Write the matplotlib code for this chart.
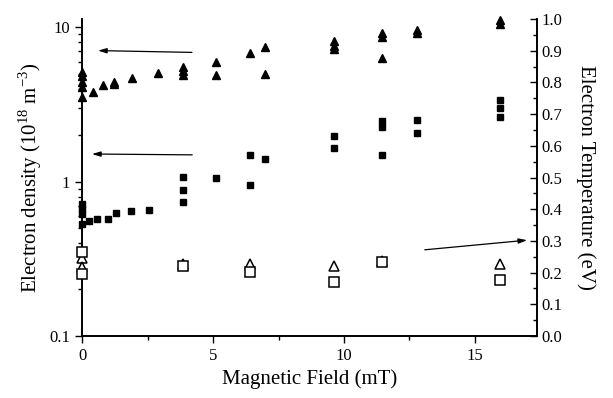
import matplotlib
matplotlib.use("Agg")
import matplotlib.pyplot as plt
from matplotlib.ticker import FixedLocator, NullFormatter, MultipleLocator

plt.rcParams['font.family'] = ['Liberation Serif', 'DejaVu Serif']
plt.rcParams['mathtext.fontset'] = 'custom'
plt.rcParams['mathtext.rm'] = 'Liberation Serif'

# density, upper set (filled triangles), 10^18 m^-3
tri_B = [0, 0, 0, 0, 0, 0.4, 0.8, 1.2, 1.2, 1.9, 2.9, 3.85, 3.85, 3.85,
         5.1, 5.1, 6.4, 7.0, 7.0, 9.6, 9.6, 9.6, 11.45, 11.45, 11.45, 12.8, 12.8, 15.95, 15.95]
tri_n = [5.17, 4.8, 4.45, 4.13, 3.56, 3.83, 4.25, 4.3, 4.4, 4.72, 5.02, 5.57, 5.2, 4.94,
         6.0, 4.94, 6.77, 7.4, 5.0, 8.2, 7.6, 7.2, 9.14, 8.6, 6.36, 9.6, 9.25, 11.1, 10.5]

# density, lower set (filled squares)
sq_B = [0, 0, 0, 0, 0.27, 0.57, 1.0, 1.3, 1.87, 2.56, 3.85, 3.85, 3.85, 5.1,
        6.4, 6.4, 7.0, 9.6, 9.6, 11.45, 11.45, 11.45, 12.8, 12.8, 15.95, 15.95, 15.95]
sq_n = [0.714, 0.662, 0.614, 0.529, 0.553, 0.570, 0.570, 0.623, 0.643, 0.654, 1.07, 0.88, 0.735, 1.05,
        1.49, 0.95, 1.40, 1.98, 1.65, 2.48, 2.26, 1.49, 2.52, 2.07, 3.4, 3.01, 2.63]

# electron temperature (eV), open markers
otri_B = [0, 0, 3.85, 6.4, 9.6, 11.45, 15.95]
otri_T = [0.246, 0.218, 0.227, 0.227, 0.221, 0.238, 0.227]
osq_B = [0, 0, 3.85, 6.4, 9.6, 11.45, 15.95]
osq_T = [0.265, 0.196, 0.220, 0.202, 0.170, 0.233, 0.177]

fig = plt.figure(figsize=(6.13, 3.98), dpi=100)
ax = fig.add_axes([0.134, 0.156, 0.742, 0.796])
ax2 = ax.twinx()

ax.semilogy(tri_B, tri_n, '^', color='black', ms=5.5, mec='black', clip_on=False, zorder=3)
ax.semilogy(sq_B, sq_n, 's', color='black', ms=4.6, mec='black', clip_on=False, zorder=3)
ax2.plot(otri_B, otri_T, '^', mfc='white', mec='black', mew=1.1, ms=7.5, clip_on=False, zorder=3)
ax2.plot(osq_B, osq_T, 's', mfc='white', mec='black', mew=1.1, ms=6.5, clip_on=False, zorder=4)

ax.set_xlim(0, 17.37)
ax.set_ylim(0.1, 11.3)
ax2.set_ylim(0, 1.0)

ax.xaxis.set_major_locator(MultipleLocator(5))
ax.xaxis.set_minor_locator(MultipleLocator(2.5))
ax.yaxis.set_major_locator(FixedLocator([0.1, 1, 10]))
ax.yaxis.set_major_formatter(plt.FuncFormatter(lambda v, p: {0.1: '0.1', 1: '1', 10: '10'}.get(round(v, 1), '')))
ax.yaxis.set_minor_formatter(NullFormatter())
ax2.yaxis.set_major_locator(MultipleLocator(0.1))
ax2.yaxis.set_minor_locator(MultipleLocator(0.05))
ax2.yaxis.set_major_formatter(plt.FormatStrFormatter('%.1f'))

ax.tick_params(axis='both', which='major', labelsize=12, direction='out', length=5, width=1)
ax.tick_params(axis='both', which='minor', direction='out', length=3, width=1)
ax2.tick_params(axis='y', which='major', labelsize=12, direction='in', length=5, width=1)
ax2.tick_params(axis='y', which='minor', direction='in', length=3, width=1)

for a in (ax, ax2):
    a.spines['top'].set_visible(False)
    for s in ('left', 'right', 'bottom'):
        a.spines[s].set_linewidth(1.2)

ax.set_xlabel('Magnetic Field (mT)', fontsize=15, labelpad=4)
ax.set_ylabel('Electron density (10$^{18}$ m$^{-3}$)', fontsize=15, labelpad=4)
ax2.set_ylabel('Electron Temperature (eV)', fontsize=15, rotation=-90, labelpad=24)

arrow = dict(arrowstyle='-|>,head_length=0.5,head_width=0.15', color='black', lw=0.9)
ax.annotate('', xy=(0.5, 7.07), xytext=(4.3, 6.87), arrowprops=arrow)
ax.annotate('', xy=(0.27, 1.51), xytext=(4.31, 1.49), arrowprops=arrow)
ax2.annotate('', xy=(17.1, 0.303), xytext=(12.98, 0.271), arrowprops=arrow)

fig.savefig('out.png', dpi=100)
